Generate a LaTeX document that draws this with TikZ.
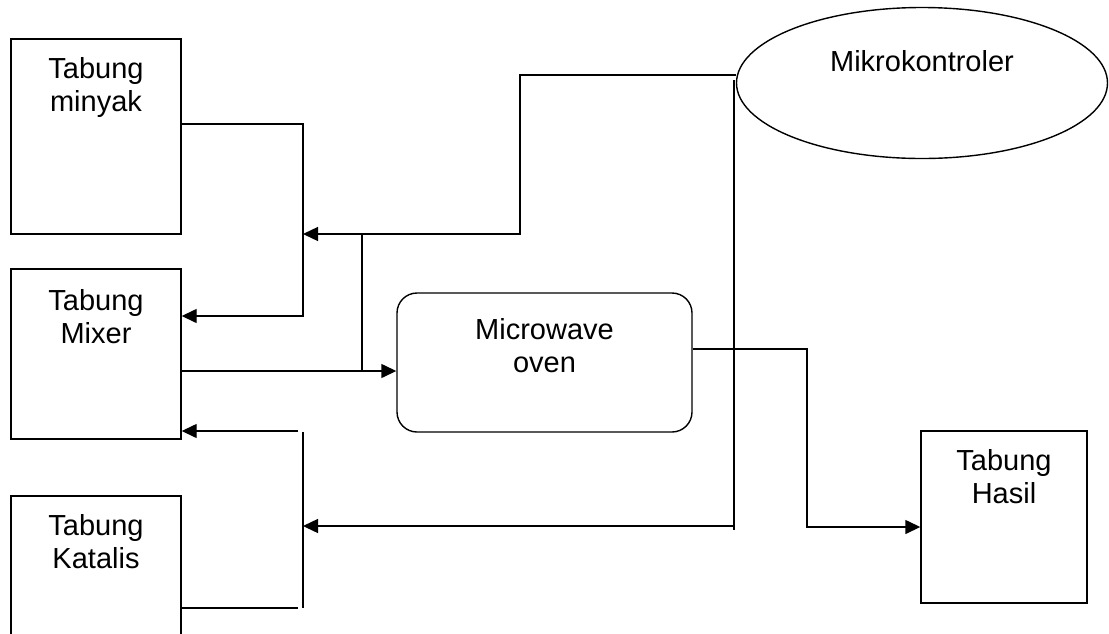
\documentclass[tikz,border=0pt]{standalone}
\usepackage{fontspec}
\setmainfont{Liberation Sans}
\usetikzlibrary{arrows.meta,positioning,shapes.geometric}

\begin{document}
\begin{tikzpicture}[x=0.5pt,y=-0.5pt,line width=0.7pt,
  tank/.style={draw,rectangle,inner sep=0pt,minimum width=85pt},
  tanktext/.style={align=center,inner sep=0pt,font=\fontsize{14.5}{16.5}\selectfont},
  flow/.style={-{Triangle[length=7.5pt,width=7pt]}}]
  \useasboundingbox (0,0) rectangle (1109,633);
  \clip (0,0) rectangle (1109,633);
  \node[tank,minimum height=97.5pt] (minyak) at (96,136.5) {};
  \node[tank,minimum height=85pt] (mixer) at (96,354) {};
  \node[tank,minimum height=85pt] (katalis) at (96,581) {};
  \node[tank,minimum width=83pt,minimum height=86pt] (hasil) at (1004,517) {};
  \node[draw,rectangle,rounded corners=10pt,inner sep=0pt,minimum width=147.5pt,minimum height=69.5pt] (oven) at (544.5,362.5) {};
  \node[draw,ellipse,inner sep=0pt,minimum width=185.5pt,minimum height=75.5pt] (mikro) at (922,83) {};
  \node[tanktext,below=9pt of minyak.north] (minyaktext) {Tabung\\minyak};
  \node[tanktext,below=10pt of mixer.north] (mixertext) {Tabung\\Mixer};
  \node[tanktext,below=9pt of katalis.north] (katalistext) {Tabung\\Katalis};
  \node[tanktext,below=9pt of hasil.north] (hasiltext) {Tabung\\Hasil};
  \node[tanktext,below=12.5pt of oven.north] (oventext) {Microwave\\oven};
  \node[tanktext,below=21.5pt of mikro.north] (mikrotext) {Mikrokontroler};
  \coordinate (k1) at (303,124);
  \coordinate (k2) at (303,316);
  \coordinate (k3) at (520,75);
  \coordinate (k4) at (520,234);
  \coordinate (k5) at (303,234);
  \coordinate (k6) at (362,234);
  \coordinate (k7) at (362,371);
  \coordinate (k8) at (734,80);
  \coordinate (k9) at (734,530);
  \coordinate (k10) at (734,526);
  \coordinate (k11) at (303,526);
  \coordinate (k12) at (298,608);
  \coordinate (k13) at (303,432);
  \coordinate (k14) at (303,608);
  \coordinate (k15) at (298,431);
  \coordinate (k16) at (807,349);
  \coordinate (k17) at (807,527);
  \draw[flow] (minyak.east |- k1) -- (k1) -- (k2) -- (mixer.east |- k2);
  \draw[flow] (k3 -| mikro.west) -- (k3) -- (k4) -- (k5);
  \draw (k6) -- (k7);
  \draw[flow] (mixer.east |- k7) -- (oven.west |- k7);
  \draw (k8) -- (k9);
  \draw[flow] (k10) -- (k11);
  \draw (katalis.east |- k12) -- (k12);
  \draw (k13) -- (k14);
  \draw[flow] (k15) -- (mixer.east |- k15);
  \draw[flow] (oven.east |- k16) -- (k16) -- (k17) -- (hasil.west |- k17);
\end{tikzpicture}
\end{document}
